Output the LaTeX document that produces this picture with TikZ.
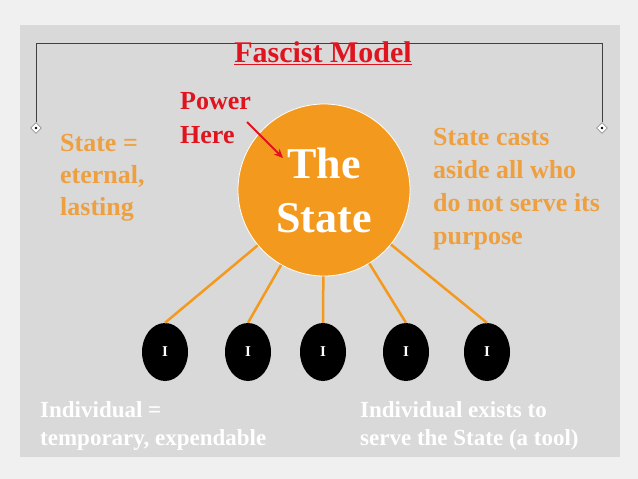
\documentclass[tikz,border=0pt]{standalone}
\usepackage{fontspec}
\setmainfont{Liberation Serif}
\begin{document}
\begin{tikzpicture}[x=1pt,y=-1pt,
  orangetxt/.style={text=txtorange,font=\bfseries\fontsize{26}{32}\selectfont,align=left,anchor=north west,inner sep=0},
  whitetxt/.style={text=white,font=\bfseries\fontsize{23}{28}\selectfont,align=left,anchor=north west,inner sep=0},
  indiv/.style={ellipse,fill=black,minimum width=46,minimum height=58,inner sep=0,text=white,font=\bfseries\fontsize{15}{15}\selectfont},
  spoke/.style={draw=sorange,line width=2.5pt},
  diam/.style={draw=gray!70!black,fill=white,diamond,minimum size=11,inner sep=0}]
\usetikzlibrary{shapes.geometric,arrows.meta}
\definecolor{sorange}{HTML}{F39A1E}
\definecolor{txtorange}{HTML}{EEA040}
\definecolor{sred}{HTML}{E0141E}
\fill[gray!12] (0,0) rectangle (638,479);
\useasboundingbox (0,0) rectangle (638,479);
\fill[gray!30] (20,25) rectangle (620,457);
\node[diam] (dl) at (36,128) {};
\node[diam] (dr) at (602,128) {};
\fill (dl) circle (1.4); \fill (dr) circle (1.4);
\draw[gray!50!black,line width=0.6pt] (dl.north) -- (36,43) -- (602,43) -- (dr.north);
\node[text=sred,font=\bfseries\fontsize{30}{30}\selectfont] (title) at (323,53) {\underline{Fascist Model}};
\node[circle,fill=sorange,draw=white,line width=0.8pt,minimum size=172,inner sep=0,text=white,font=\bfseries\fontsize{44}{54}\selectfont,align=center] (st) at (324,190) {The\\State};
\foreach \i/\x in {1/165,2/248,3/323,4/406,5/487}{
  \node[indiv] (i\i) at (\x,352) {I};
  \draw[spoke] (st) -- (i\i.north);
}
\node[orangetxt] (l) at (60,134) {State =\\eternal,\\lasting};
\node[orangetxt,font=\bfseries\fontsize{26}{33}\selectfont] (r) at (433,128) {State casts\\aside all who\\do not serve its\\purpose};
\node[text=sred,font=\bfseries\fontsize{26}{34}\selectfont,align=left,anchor=north west,inner sep=0] (pw) at (180,92) {Power\\Here};
\coordinate (tip) at (283,158);
\coordinate (tail) at (247,122);
\draw[sred,line width=2pt,-{Stealth[length=9pt,width=8pt]}] (tail) -- (tip);
\node[whitetxt] (bl) at (40,401) {Individual =\\temporary, expendable};
\node[whitetxt] (br) at (360,401) {Individual exists to\\serve the State (a tool)};
\end{tikzpicture}
\end{document}
